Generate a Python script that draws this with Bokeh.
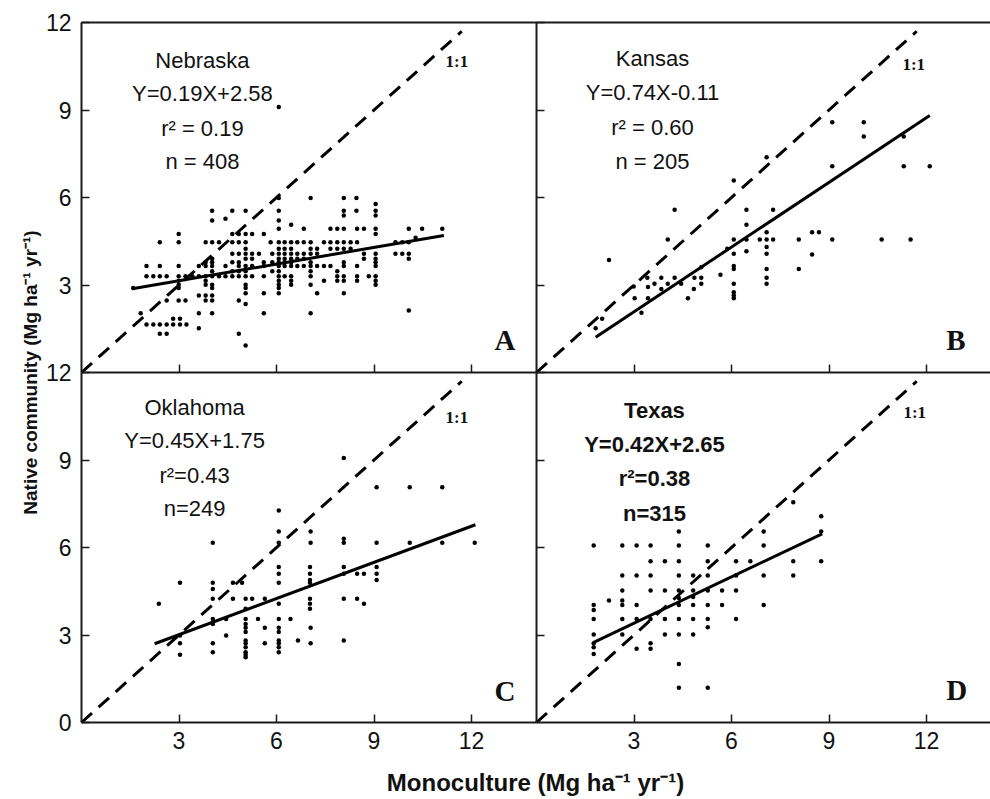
import numpy as np
from bokeh.plotting import figure
from bokeh.models import Range1d, FixedTicker, LinearAxis, Label
from bokeh.embed import file_html
from bokeh.resources import INLINE
from bokeh.core.properties import value

# ---------------- data ----------------
# each row: (native community value, [monoculture values at that level])
ne_rows = [
    (9.10, [6.07]),
    (5.98, [6.07, 7.05, 8.07, 8.46]),
    (5.78, [9.05]),
    (5.55, [4.02, 4.64, 5.05, 6.07, 8.07, 8.46, 9.05]),
    (5.38, [8.07, 9.05]),
    (5.27, [4.43]),
    (5.21, [4.02, 6.07]),
    (5.07, [6.45]),
    (4.93, [6.07, 6.84, 7.66, 7.87, 8.07, 8.48, 8.69, 9.05, 10.07, 10.48, 11.10]),
    (4.75, [2.99, 4.64, 4.84, 5.05, 5.25, 5.61, 9.05]),
    (4.62, [10.28]),
    (4.47, [2.41, 2.99, 3.82, 4.02, 4.23, 4.64, 4.84, 5.05, 5.82, 6.07, 6.25, 6.45, 6.64,
            6.84, 7.05, 7.46, 7.66, 7.87, 8.07, 8.28, 8.48, 9.66, 9.87, 10.07]),
    (4.24, [5.05, 6.07, 6.25, 6.45, 7.05, 7.25, 7.66, 7.87, 8.07, 8.28]),
    (4.07, [4.64, 4.84, 5.05, 5.25, 5.46, 5.87, 6.07, 6.25, 6.45, 6.64, 6.84, 7.05, 7.25,
            8.69, 9.05, 9.66, 9.87, 10.07]),
    (3.90, [4.02, 5.05, 5.25, 6.07, 6.25, 6.45, 6.64, 6.84, 8.69, 9.05, 10.07]),
    (3.78, [3.82, 4.02, 4.64, 4.84, 5.61, 5.87, 6.07, 6.25, 6.45, 7.05, 8.07, 9.05]),
    (3.65, [2.00, 2.41, 2.99, 3.61, 3.82, 4.02, 4.43, 4.84, 5.05, 5.25, 5.61, 6.07, 6.25,
            6.45, 6.64, 6.84, 7.05, 7.25, 7.46, 7.66, 8.07, 8.48, 9.05]),
    (3.47, [4.02, 4.64, 4.84, 5.05, 5.87, 6.07, 7.05, 7.87]),
    (3.30, [2.00, 2.21, 2.41, 2.62, 2.99, 3.20, 3.41, 3.61, 3.82, 4.02, 4.23, 4.43, 4.64,
            4.84, 5.05, 5.25, 5.61, 6.07, 6.25, 6.45, 7.05, 7.87, 8.07, 8.48, 8.84, 9.05]),
    (3.15, [2.99, 3.82, 6.07, 6.45, 7.46, 7.87, 8.07, 8.48, 9.05]),
    (3.01, [2.99, 3.82, 4.02, 5.05, 6.07, 6.45, 7.05, 9.05]),
    (2.90, [1.59, 2.99, 4.02, 5.05, 6.07]),
    (2.72, [5.05, 5.61, 6.07, 7.25, 8.07]),
    (2.64, [3.61, 3.82, 4.02]),
    (2.47, [2.62, 2.99, 3.20, 3.82, 4.02, 4.84]),
    (2.35, [5.05]),
    (2.13, [10.07]),
    (2.03, [1.82, 3.61, 4.02, 5.61, 7.05]),
    (1.84, [2.82, 3.03]),
    (1.65, [2.00, 2.21, 2.41, 2.62, 2.82, 3.03, 3.23]),
    (1.52, [3.61]),
    (1.33, [2.41, 2.62, 4.84]),
    (0.93, [5.05]),
]

ks_rows = [
    (8.58, [9.10, 10.07]),
    (8.09, [10.07, 11.30]),
    (7.38, [7.08]),
    (7.07, [9.10, 11.30, 12.10]),
    (6.58, [6.07]),
    (5.58, [4.25, 6.46, 7.28]),
    (5.07, [6.46]),
    (4.81, [7.08, 8.48, 8.69]),
    (4.56, [4.04, 6.07, 6.46, 6.87, 7.08, 7.28, 8.07, 9.10, 10.62, 11.51]),
    (4.30, [7.08]),
    (4.24, [5.87]),
    (4.16, [6.46]),
    (4.07, [6.07, 7.08]),
    (4.05, [8.48]),
    (3.86, [2.23]),
    (3.65, [6.07]),
    (3.61, [5.07]),
    (3.55, [6.07, 7.08, 8.07]),
    (3.35, [5.66]),
    (3.25, [3.41, 3.84, 4.25, 4.86, 5.07, 7.08]),
    (3.04, [3.63, 4.04, 4.45, 5.07, 6.07, 7.08]),
    (2.95, [2.99]),
    (2.93, [3.43]),
    (2.86, [3.84, 4.84]),
    (2.75, [6.07]),
    (2.64, [6.07]),
    (2.55, [3.02, 3.43, 4.66, 6.07]),
    (2.05, [3.23]),
    (1.84, [2.02]),
    (1.52, [1.82]),
]

ok_rows = [
    (9.07, [8.07]),
    (8.07, [9.08, 10.10, 11.10]),
    (7.27, [6.07]),
    (6.55, [6.07, 7.05]),
    (6.30, [8.07]),
    (6.16, [4.04, 6.07, 7.05, 8.07, 9.08, 10.10, 11.10, 12.10]),
    (5.33, [6.07, 7.03, 8.07, 9.08]),
    (5.10, [6.07, 7.03, 8.07, 8.48, 8.69, 9.08]),
    (4.89, [7.03, 9.08]),
    (4.79, [3.03, 4.04, 4.66, 4.94, 6.07, 7.03]),
    (4.58, [4.04]),
    (4.24, [4.04, 4.66, 5.05, 5.25, 5.64, 7.03, 8.07, 8.48]),
    (4.07, [2.38, 6.07, 7.03, 8.69]),
    (3.90, [5.05, 7.03]),
    (3.55, [4.04, 4.45, 5.05, 5.43, 6.07, 6.43]),
    (3.38, [4.04, 5.05]),
    (3.25, [5.05, 5.64, 6.07, 7.05]),
    (3.10, [5.05, 6.07]),
    (2.98, [3.03, 4.45]),
    (2.81, [5.05, 6.07, 6.66, 8.07]),
    (2.72, [3.03, 4.04, 5.05, 5.64, 6.07, 7.05]),
    (2.58, [5.05, 6.07]),
    (2.41, [4.04, 5.05, 6.07]),
    (2.32, [3.03, 5.05]),
    (2.24, [5.05]),
]

tx_rows = [
    (7.55, [7.90]),
    (7.07, [8.76]),
    (6.55, [4.38, 6.99, 8.76]),
    (6.07, [1.76, 2.64, 3.08, 3.51, 4.38, 5.27, 6.99]),
    (5.53, [3.51, 3.95, 4.38, 5.27, 6.14, 6.58, 7.90, 8.76]),
    (5.04, [2.64, 3.08, 3.51, 4.38, 4.82, 5.27, 6.14, 6.99, 7.90]),
    (4.53, [2.64, 3.51, 3.95, 4.38, 4.82, 5.27, 5.71, 6.14]),
    (4.30, [4.82]),
    (4.27, [4.38]),
    (4.18, [2.23, 2.64]),
    (4.03, [1.76, 2.64, 3.08, 4.38, 4.82, 5.27, 5.71, 6.99]),
    (3.86, [1.76]),
    (3.55, [1.76, 2.64, 3.08, 3.51, 3.95, 4.38, 4.82, 5.27, 6.14]),
    (3.27, [5.27]),
    (3.02, [1.76, 2.64, 3.95, 4.38, 4.82]),
    (2.72, [1.76, 3.51]),
    (2.58, [1.76]),
    (2.53, [3.08, 3.51]),
    (2.35, [1.76]),
    (2.01, [4.38]),
    (1.19, [4.38, 5.27]),
]

# fitted regression lines as drawn (end points)
ne_fit_x, ne_fit_y = [1.56, 11.15], [2.87, 4.70]
ks_fit_x, ks_fit_y = [1.82, 12.10], [1.21, 8.81]
ok_fit_x, ok_fit_y = [2.25, 12.12], [2.70, 6.78]
tx_fit_x, tx_fit_y = [1.76, 8.79], [2.75, 6.47]

one_to_one = [0.0, 11.7]

ne_text = ["Nebraska", "Y=0.19X+2.58", "r\u00b2 = 0.19", "n = 408"]
ks_text = ["Kansas", "Y=0.74X-0.11", "r\u00b2 = 0.60", "n = 205"]
ok_text = ["Oklahoma", "Y=0.45X+1.75", "r\u00b2=0.43", "n=249"]
tx_text = ["Texas", "Y=0.42X+2.65", "r\u00b2=0.38", "n=315"]
panel_letters = ["A", "B", "C", "D"]

x_ticks = [3, 6, 9, 12]
y_ticks_top = [3, 6, 9, 12]
y_ticks_bottom = [0, 3, 6, 9, 12]

x_title = "Monoculture (Mg ha\u207b\u00b9 yr\u207b\u00b9)"
y_title = "Native community (Mg ha\u207b\u00b9 yr\u207b\u00b9)"

# ---------------- layout ----------------
W, H = 990, 799            # canvas = frame (page has no margin)
UX = 32.5                  # px per monoculture unit
UY = 350 / 12              # px per native-community unit
LEFT0, RIGHT0 = 81, 536    # x pixel of the panels' zero (left / right column)
TOP0, BOT0 = 372, 722      # y pixel (from top) of the panels' zero (top / bottom row)
SANS = "Liberation Sans"
SERIF = "Liberation Serif"
INK = "#1a1a1a"


def flat(rows):
    xs, ys = [], []
    for yv, xl in rows:
        for xv in xl:
            xs.append(xv)
            ys.append(yv)
    return xs, ys


def xrange_for(x0):
    return Range1d(-x0 / UX, (W - x0) / UX)


def yrange_for(y0):
    start = -(H - y0) / UY
    return Range1d(start, start + H / UY)


p = figure(width=W, height=H, x_range=Range1d(0, W), y_range=Range1d(0, H),
           x_axis_location=None, y_axis_location=None, toolbar_location=None,
           output_backend="svg", min_border=0, min_border_left=0, min_border_right=0,
           min_border_top=0, min_border_bottom=0, outline_line_color=None)
p.grid.visible = False
p.extra_x_ranges = {"xl": xrange_for(LEFT0), "xr": xrange_for(RIGHT0)}
p.extra_y_ranges = {"yt": yrange_for(TOP0), "yb": yrange_for(BOT0)}


def add_axis(side, xname, yname, ticks, bounds, labels):
    ax = LinearAxis(x_range_name=xname, y_range_name=yname, fixed_location=0,
                    ticker=FixedTicker(ticks=ticks), bounds=bounds,
                    axis_line_color=INK, axis_line_width=2,
                    major_tick_line_color=INK, major_tick_line_width=1.5,
                    major_tick_in=8, major_tick_out=0,
                    minor_tick_line_color=None,
                    major_label_text_font=SANS, major_label_text_font_size="23px",
                    major_label_text_color="#111111",
                    major_label_standoff=10 if side == "left" else 9)
    if not labels:
        ax.major_label_text_color = None
    p.add_layout(ax, side)


# x axes
add_axis("below", "xl", "yt", x_ticks, (0, 14), False)
add_axis("below", "xr", "yt", x_ticks, (0, 14), False)
add_axis("below", "xl", "yb", x_ticks, (0, 14), True)
add_axis("below", "xr", "yb", x_ticks, (0, 14), True)
# y axes
add_axis("left", "xl", "yt", y_ticks_top, (0, 12), True)
add_axis("left", "xl", "yb", y_ticks_bottom, (0, 12), True)
add_axis("left", "xr", "yt", y_ticks_top, (0, 12), False)
add_axis("left", "xr", "yb", y_ticks_top, (0, 12), False)
# top border
top = LinearAxis(x_range_name="xl", y_range_name="yt", fixed_location=12,
                 ticker=FixedTicker(ticks=[]), bounds=(0, 28),
                 axis_line_color=INK, axis_line_width=2, major_tick_line_color=None,
                 minor_tick_line_color=None, major_label_text_color=None)
p.add_layout(top, "above")

panels = [
    dict(rows=ne_rows, fx=ne_fit_x, fy=ne_fit_y, text=ne_text, xr="xl", yr="yt",
         tx=3.72, ty=[10.70, 9.55, 8.36, 7.23], bold=False,
         one=(11.2, 10.66), let=(13.35, 1.10)),
    dict(rows=ks_rows, fx=ks_fit_x, fy=ks_fit_y, text=ks_text, xr="xr", yr="yt",
         tx=3.57, ty=[10.76, 9.60, 8.40, 7.23], bold=False,
         one=(11.26, 10.56), let=(13.2, 1.10)),
    dict(rows=ok_rows, fx=ok_fit_x, fy=ok_fit_y, text=ok_text, xr="xl", yr="yb",
         tx=3.48, ty=[10.80, 9.67, 8.47, 7.34], bold=False,
         one=(11.2, 10.47), let=(13.35, 1.07)),
    dict(rows=tx_rows, fx=tx_fit_x, fy=tx_fit_y, text=tx_text, xr="xr", yr="yb",
         tx=3.63, ty=[10.70, 9.53, 8.36, 7.16], bold=True,
         one=(11.29, 10.64), let=(13.25, 1.10)),
]

for i, c in enumerate(panels):
    kw = dict(x_range_name=c["xr"], y_range_name=c["yr"])
    xs, ys = flat(c["rows"])
    p.line(one_to_one, one_to_one, line_color="black", line_width=3,
           line_dash="14 9", **kw)
    p.line(c["fx"], c["fy"], line_color="black", line_width=3, **kw)
    p.scatter(xs, ys, marker="circle", size=4.5, fill_color="black",
              line_color=None, **kw)
    p.text(x=[c["tx"]] * 4, y=c["ty"], text=c["text"], text_font=value(SANS),
           text_font_size=value("22px"), text_align="center", text_baseline="middle",
           text_font_style="bold" if c["bold"] else "normal", text_color="#111111", **kw)
    p.text(x=[c["one"][0]], y=[c["one"][1]], text=["1:1"], text_font=value(SERIF),
           text_font_size=value("17px"), text_font_style="bold", text_align="left",
           text_baseline="middle", text_color="#111111", **kw)
    p.text(x=[c["let"][0]], y=[c["let"][1]], text=[panel_letters[i]],
           text_font=value(SERIF), text_font_size=value("29px"), text_font_style="bold",
           text_align="right", text_baseline="alphabetic", text_color="#111111", **kw)

# shared axis titles (page pixel positions, y measured from the bottom)
p.add_layout(Label(x=535, y=H - 782, text=x_title, text_align="center",
                   text_baseline="middle", text_font=SANS, text_font_size="24px",
                   text_font_style="bold", text_color="#111111"))
p.add_layout(Label(x=30, y=H - 372, text=y_title, angle=np.pi / 2, text_align="center",
                   text_baseline="middle", text_font=SANS, text_font_size="19px",
                   text_font_style="bold", text_color="#111111"))

open("out.html", "w").write(file_html(p, INLINE))
